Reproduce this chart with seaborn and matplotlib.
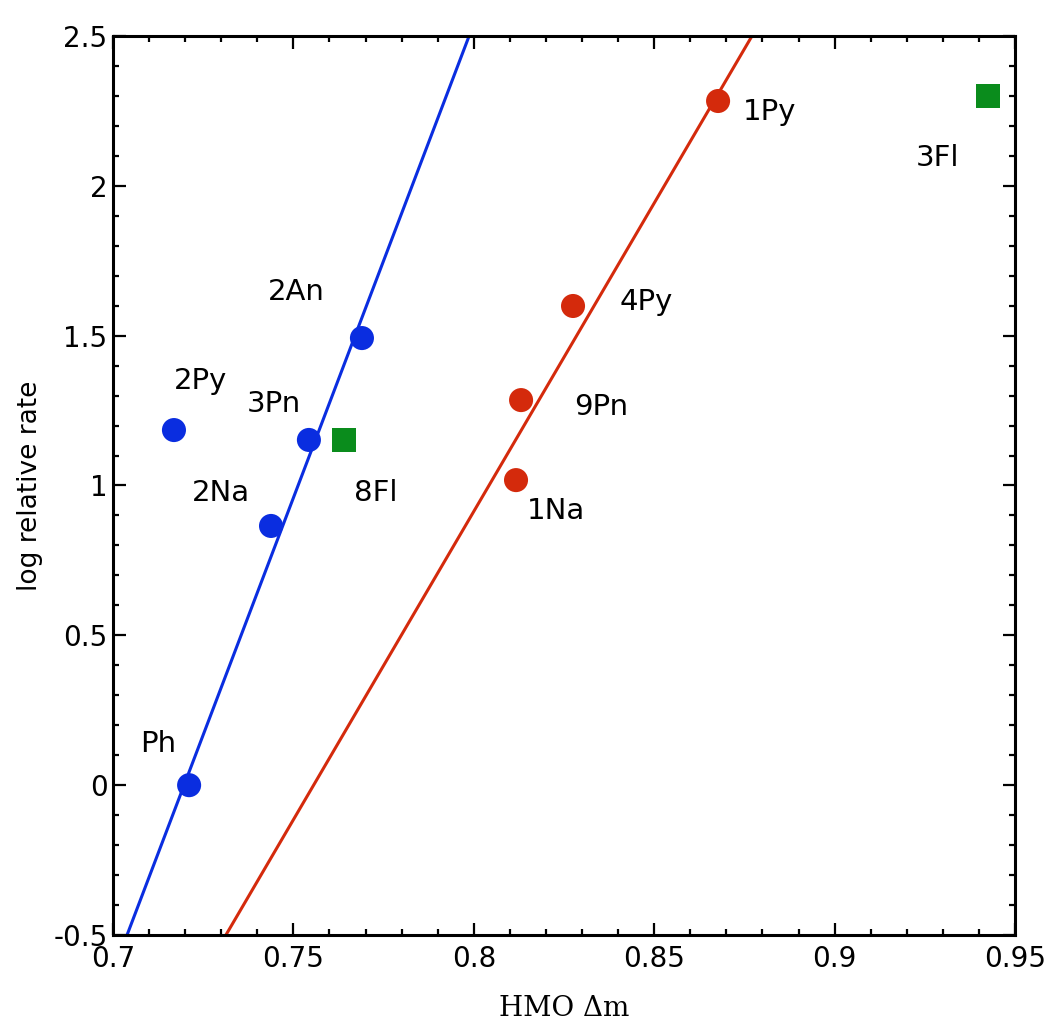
import numpy as np
import pandas as pd
import seaborn as sn
import matplotlib.pyplot as plt
from matplotlib.ticker import MultipleLocator, FormatStrFormatter

# blue series (circles)
blue_names = ['Ph', '2Na', '3Pn', '2An', '2Py']
blue_x = [0.7211, 0.7438, 0.7543, 0.7690, 0.7169]
blue_y = [0.0, 0.865, 1.152, 1.492, 1.185]

# red series (circles)
red_names = ['1Na', '9Pn', '4Py', '1Py']
red_x = [0.8117, 0.8131, 0.8275, 0.8677]
red_y = [1.018, 1.285, 1.599, 2.283]

# green squares
green_names = ['8Fl', '3Fl']
green_x = [0.764, 0.9425]
green_y = [1.152, 2.30]

# fitted lines (endpoints)
blue_line_x = [0.7039, 0.7987]
blue_line_y = [-0.5, 2.5]
red_line_x = [0.7313, 0.8771]
red_line_y = [-0.5, 2.5]

# label offsets in points
offsets = {
    'Ph': (-22, 30), '2Py': (19, 35), '3Pn': (-25, 26), '2An': (-47, 33),
    '2Na': (-36, 24), '8Fl': (23, -38), '1Na': (29, -22), '9Pn': (58, -5),
    '4Py': (53, 3), '1Py': (37, -8), '3Fl': (-36, -45),
}

BLUE = '#0a2de0'
RED = '#d42a0c'
GREEN = '#0a8c1c'

sn.set_style('ticks')
plt.rcParams['font.family'] = ['DejaVu Sans']
plt.rcParams['axes.unicode_minus'] = False

fig = plt.figure(figsize=(10.5, 10.31), dpi=100)
ax = fig.add_axes([0.1076, 0.0931, 0.8591, 0.872])

sn.lineplot(x=blue_line_x, y=blue_line_y, ax=ax, color=BLUE, lw=2.2)
sn.lineplot(x=red_line_x, y=red_line_y, ax=ax, color=RED, lw=2.2)

sn.scatterplot(x=blue_x, y=blue_y, ax=ax, color=BLUE, s=300, marker='o', edgecolor='none', zorder=3)
sn.scatterplot(x=red_x, y=red_y, ax=ax, color=RED, s=300, marker='o', edgecolor='none', zorder=3)
sn.scatterplot(x=green_x, y=green_y, ax=ax, color=GREEN, s=300, marker='s', edgecolor='none', zorder=3)

for names, xs, ys in [(blue_names, blue_x, blue_y), (red_names, red_x, red_y),
                      (green_names, green_x, green_y)]:
    for n, x, y in zip(names, xs, ys):
        ax.annotate(n, (x, y), xytext=offsets[n], textcoords='offset points',
                    ha='center', va='center', fontsize=21, color='black')

ax.set_xlim(0.7, 0.95)
ax.set_ylim(-0.5, 2.5)
ax.xaxis.set_major_locator(MultipleLocator(0.05))
ax.xaxis.set_minor_locator(MultipleLocator(0.01))
ax.yaxis.set_major_locator(MultipleLocator(0.5))
ax.yaxis.set_minor_locator(MultipleLocator(0.1))
ax.xaxis.set_major_formatter(FormatStrFormatter('%g'))
ax.yaxis.set_major_formatter(FormatStrFormatter('%g'))

ax.tick_params(which='both', direction='in', top=True, right=True, width=1.6, labelsize=20,
               colors='black', labelcolor='black')
ax.tick_params(which='major', length=9)
ax.tick_params(which='minor', length=4.5)
ax.tick_params(axis='x', pad=7)
ax.tick_params(axis='y', pad=4)
for s in ax.spines.values():
    s.set_linewidth(2.2)
    s.set_color('black')

ax.set_xlabel('HMO Δm', fontsize=20, family='DejaVu Serif', labelpad=16, color='black')
ax.set_ylabel('log relative rate', fontsize=19, labelpad=7, color='black')

plt.savefig('out.png', dpi=100)
